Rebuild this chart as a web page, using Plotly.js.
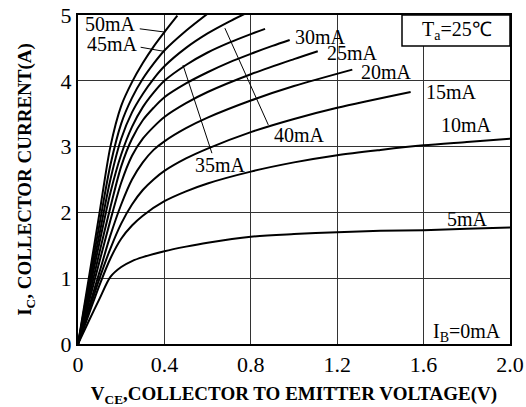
<!DOCTYPE html>
<html><head><meta charset="utf-8">
<script src="https://cdn.plot.ly/plotly-3.0.1.min.js"></script>
<style>html,body{margin:0;padding:0;background:#fff}#chart{width:526px;height:407px}</style>
</head><body><div id="chart"></div>
<script>
// Base current curves (VCE in V, IC in A)
const v5  = [0,0.05,0.1,0.15,0.2,0.25,0.3,0.4,0.5,0.6,0.8,1.0,1.2,1.4,1.6,1.8,2.0];
const i5  = [0,0.35,0.69,1.02,1.17,1.26,1.32,1.41,1.48,1.54,1.63,1.67,1.70,1.72,1.73,1.75,1.77];
const v10 = [0,0.05,0.1,0.15,0.2,0.25,0.3,0.4,0.5,0.6,0.8,1.0,1.2,1.4,1.6,1.8,2.0];
const i10 = [0,0.45,0.9,1.3,1.6,1.8,1.95,2.17,2.32,2.44,2.62,2.76,2.87,2.95,3.02,3.07,3.12];
const v15 = [0,0.05,0.1,0.15,0.2,0.25,0.3,0.35,0.4,0.5,0.6,0.8,1.0,1.2,1.54];
const i15 = [0,0.5,1.0,1.45,1.83,2.12,2.34,2.5,2.63,2.82,2.97,3.22,3.42,3.59,3.83];
const v20 = [0,0.05,0.1,0.15,0.2,0.25,0.3,0.35,0.4,0.5,0.6,0.8,1.0,1.27];
const i20 = [0,0.55,1.1,1.65,2.12,2.5,2.76,2.95,3.08,3.28,3.44,3.7,3.92,4.17];
const v25 = [0,0.05,0.1,0.15,0.2,0.25,0.3,0.35,0.4,0.5,0.6,0.8,1.0,1.11];
const i25 = [0,0.63,1.26,1.88,2.45,2.86,3.12,3.3,3.45,3.66,3.83,4.1,4.33,4.45];
const v30 = [0,0.05,0.1,0.15,0.2,0.25,0.3,0.35,0.4,0.5,0.6,0.7,0.8,0.9,0.98];
const i30 = [0,0.7,1.4,2.08,2.7,3.12,3.4,3.59,3.75,3.96,4.13,4.28,4.41,4.53,4.62];
const v35 = [0,0.05,0.1,0.15,0.2,0.25,0.3,0.35,0.4,0.5,0.6,0.7,0.8,0.866];
const i35 = [0,0.78,1.55,2.3,2.88,3.3,3.6,3.82,4.0,4.24,4.43,4.58,4.71,4.79];
const v40 = [0,0.05,0.1,0.15,0.2,0.25,0.3,0.35,0.4,0.5,0.6,0.7,0.78];
const i40 = [0,0.85,1.68,2.5,3.12,3.52,3.8,4.03,4.22,4.5,4.72,4.9,5.03];
const v45 = [0,0.05,0.1,0.15,0.2,0.25,0.3,0.35,0.4,0.5,0.6];
const i45 = [0,0.92,1.83,2.72,3.35,3.74,4.03,4.26,4.46,4.76,5.02];
const v50 = [0,0.05,0.1,0.15,0.2,0.25,0.3,0.35,0.4,0.46];
const i50 = [0,1.0,2.0,3.0,3.62,3.98,4.27,4.52,4.74,4.99];

const curveV = [v5,v10,v15,v20,v25,v30,v35,v40,v45,v50];
const curveI = [i5,i10,i15,i20,i25,i30,i35,i40,i45,i50];

// Labels: text, x (left edge), y (middle)
const labelText = ['50mA','45mA','30mA','25mA','20mA','15mA','10mA','5mA','40mA','35mA'];
const labelX    = [0.023,0.032,0.995,1.143,1.30,1.60,1.67,1.70,0.90,0.532];
const labelY    = [4.86,4.56,4.67,4.42,4.13,3.83,3.33,1.90,3.18,2.72];
// Leader lines [x0,y0,x1,y1]
const leaders = [[0.286,4.79,0.404,4.74],[0.29,4.51,0.394,4.45],[0.486,4.24,0.62,2.90],[0.68,4.80,0.881,3.33]];

const xTickVals = [0,0.4,0.8,1.2,1.6,2.0];
const xTickText = ['0','0.4','0.8','1.2','1.6','2.0'];
const yTickVals = [0,1,2,3,4,5];
const yTickText = ['0','1','2','3','4','5'];

const FONT = 'Liberation Serif';

const traces = curveV.map((v,k)=>({
  x:v, y:curveI[k], type:'scatter', mode:'lines',
  line:{color:'#000', width:2, shape:'spline', smoothing:0.8},
  hoverinfo:'skip', showlegend:false
}));

const annotations = labelText.map((t,k)=>({
  x:labelX[k], y:labelY[k], xref:'x', yref:'y', text:t, showarrow:false,
  xanchor:'left', yanchor:'middle', font:{family:FONT, size:20, color:'#000'}
}));
annotations.push({x:1.755, y:4.76, xref:'x', yref:'y', text:'T<sub>a</sub>=25℃', showarrow:false,
  xanchor:'center', yanchor:'middle', font:{family:FONT, size:20, color:'#000'}});
annotations.push({x:1.968, y:0.17, xref:'x', yref:'y', text:'I<sub>B</sub>=0mA', showarrow:false,
  xanchor:'right', yanchor:'middle', font:{family:FONT, size:20, color:'#000'}});

const shapes = leaders.map(l=>({type:'line', xref:'x', yref:'y', x0:l[0], y0:l[1], x1:l[2], y1:l[3],
  line:{color:'#000', width:1}}));
shapes.push({type:'rect', xref:'x', yref:'y', x0:1.5, y0:4.53, x1:2.0, y1:5.0,
  fillcolor:'#fff', line:{color:'#000', width:1.5}, layer:'above'});

const layout = {
  width:526, height:407,
  font:{family:FONT, size:20, color:'#000'},
  margin:{l:78, r:16, t:15, b:63},
  paper_bgcolor:'#fff', plot_bgcolor:'#fff',
  showlegend:false,
  xaxis:{range:[0,2], tickmode:'array', tickvals:xTickVals, ticktext:xTickText, showgrid:true, gridcolor:'#333', gridwidth:1,
    zeroline:false, showline:true, linecolor:'#000', linewidth:2, mirror:true, ticks:'',
    tickfont:{family:FONT, size:22, color:'#000'},
    title:{text:'<b>V<sub>CE</sub>,COLLECTOR TO EMITTER VOLTAGE(V)</b>', font:{family:FONT, size:19, color:'#000'}, standoff:12}},
  yaxis:{range:[0,5], tickmode:'array', tickvals:yTickVals, ticktext:yTickText, showgrid:true, gridcolor:'#333', gridwidth:1,
    zeroline:false, showline:true, linecolor:'#000', linewidth:2, mirror:true, ticks:'',
    tickfont:{family:FONT, size:22, color:'#000'},
    title:{text:'<b>I<sub>C</sub>, COLLECTOR CURRENT(A)</b>', font:{family:FONT, size:19, color:'#000'}, standoff:24}},
  annotations:annotations,
  shapes:shapes
};

Plotly.newPlot('chart', traces, layout, {staticPlot:true, displayModeBar:false});
</script>
</body></html>
